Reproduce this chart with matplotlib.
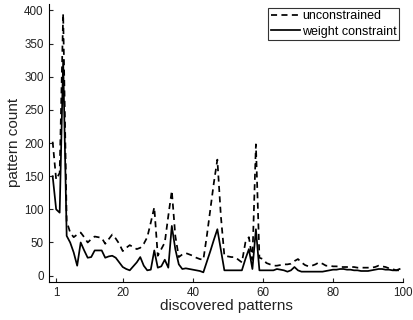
import numpy as np
import matplotlib
matplotlib.use("Agg")
import matplotlib.pyplot as plt

plt.rcParams['font.family'] = ['Liberation Sans', 'DejaVu Sans']

# pattern index
patterns = np.arange(0, 100)

# counts, one per discovered pattern
unconstrained = [
    202, 145, 155, 395, 82, 65, 58, 62, 65, 58,
    50, 55, 59, 58, 57, 48, 55, 62, 56, 48,
    37, 42, 46, 43, 40, 42, 48, 58, 80, 103,
    30, 40, 50, 90, 128, 60, 28, 32, 34, 32,
    30, 27, 25, 24, 60, 100, 140, 175, 90, 30,
    29, 28, 28, 24, 20, 50, 58, 24, 198, 27,
    25, 19, 17, 15, 15, 16, 17, 17, 18, 22,
    25, 20, 16, 14, 15, 17, 20, 18, 15, 15,
    14, 14, 13, 13, 13, 13, 13, 12, 12, 12,
    12, 12, 13, 15, 14, 13, 11, 10, 8, 8,
]
weight_constraint = [
    150, 100, 95, 325, 60, 50, 35, 15, 50, 38,
    27, 28, 38, 38, 38, 27, 29, 30, 27, 20,
    13, 10, 8, 14, 20, 28, 15, 8, 9, 38,
    12, 14, 24, 12, 75, 40, 17, 10, 11, 10,
    9, 8, 7, 5, 21, 37, 54, 70, 39, 8,
    8, 8, 8, 8, 8, 25, 40, 10, 70, 8,
    8, 8, 8, 8, 10, 9, 8, 6, 8, 13,
    8, 6, 6, 6, 6, 6, 6, 6, 7, 8,
    9, 9, 10, 10, 9, 9, 8, 8, 7, 7,
    7, 8, 9, 10, 10, 9, 9, 8, 8, 10,
]

xticks = [1, 20, 40, 60, 80, 100]
yticks = [0, 50, 100, 150, 200, 250, 300, 350, 400]

fig = plt.figure(figsize=(4.13, 3.2), dpi=100)
ax = fig.add_axes([0.119, 0.12, 0.857, 0.868])

ax.plot(patterns, unconstrained, color='black', linestyle=(0, (3.5, 2.5)),
        linewidth=1.25, label='unconstrained')
ax.plot(patterns, weight_constraint, color='black', linestyle='-',
        linewidth=1.25, label='weight constraint')

ax.set_xlim(-1, 100)
ax.set_ylim(-9, 410)
ax.set_xticks(xticks)
ax.set_yticks(yticks)

ax.spines['top'].set_visible(False)
ax.spines['right'].set_visible(False)
for s in ['left', 'bottom']:
    ax.spines[s].set_linewidth(0.8)
ax.tick_params(direction='in', length=3, width=0.8, labelsize=8.4,
               colors='#222222', pad=4)

ax.set_xlabel('discovered patterns', fontsize=11, color='#222222', labelpad=0)
ax.set_ylabel('pattern count', fontsize=11, color='#222222', labelpad=2)

leg = ax.legend(loc='upper right', bbox_to_anchor=(1.0, 1.0), fontsize=9,
                frameon=True, fancybox=False, handlelength=2.3,
                handletextpad=0.2, borderpad=0.2, labelspacing=0.3,
                borderaxespad=0.3)
leg.get_frame().set_edgecolor('black')
leg.get_frame().set_linewidth(0.8)

fig.savefig('out.png', dpi=100)
